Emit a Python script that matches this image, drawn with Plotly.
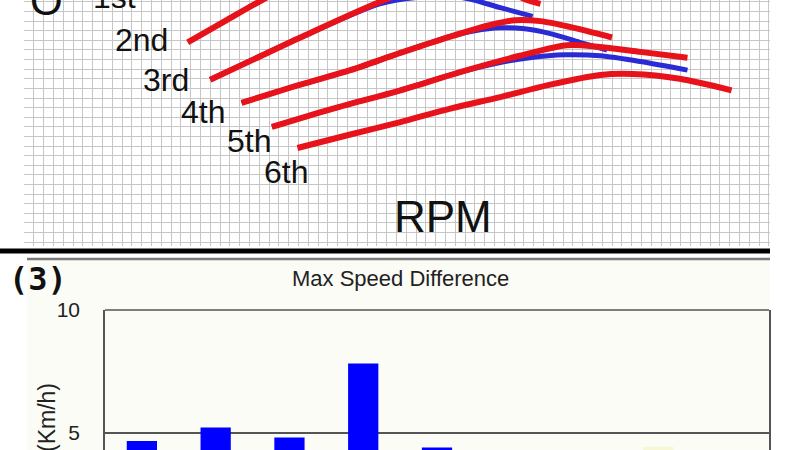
import plotly.graph_objects as go

# ---------------- data: top panel (drive force vs RPM per gear) ----------------
rpm_2nd_red = [1670, 2050, 2430, 3220, 4040]
frc_2nd_red = [208, 230, 252, 294, 317]

rpm_3rd_red = [1900, 2360, 2820, 3680, 4140, 4550, 4860, 5130, 5270]
frc_3rd_red = [169, 191, 213, 252, 267, 271, 265, 252, 248]
rpm_3rd_blue = [1900, 2820, 3630, 4040, 4350, 4550, 4860, 5190]
frc_3rd_blue = [169, 213, 248, 255, 256, 253, 244, 235]

rpm_4th_red = [2220, 2820, 3330, 3840, 4350, 4760, 5010, 5270, 5570, 6000]
frc_4th_red = [145, 164, 179, 197, 214, 226, 231, 230, 224, 213]
rpm_4th_blue = [2220, 2820, 3330, 3840, 4350, 4600, 4860, 5110, 5370, 5670, 5950]
frc_4th_blue = [145, 164, 179, 197, 214, 220, 223, 222, 217, 208, 200]

rpm_5th_red = [2530, 3120, 3840, 4450, 5060, 5540, 5880, 6290, 6770]
frc_5th_red = [120, 138, 158, 177, 194, 205, 203, 198, 192]
rpm_5th_blue = [2530, 3120, 3840, 4450, 4860, 5160, 5520, 5880, 6290, 6770]
frc_5th_blue = [120, 138, 158, 177, 187, 192, 195, 194, 188, 179]

rpm_6th_red = [2790, 3330, 3840, 4350, 4860, 5370, 5880, 6210, 6690, 7220]
frc_6th_red = [98, 112, 125, 139, 151, 164, 174, 175, 170, 158]

gear_labels = ["1st", "2nd", "3rd", "4th", "5th", "6th"]

# ---------------- data: bottom panel (Max Speed Difference) ----------------
bar_categories = ["1", "2", "3", "4", "5", "6", "7", "8", "9"]
bar_values = [4.67, 5.22, 4.81, 7.82, 4.40, 3.8, 3.5, 4.43, 3.9]
bar_colors = ["#0000ff"] * 7 + ["#f7f7d6"] + ["#0000ff"]
y_ticks = [5, 10]

W, H = 800, 450
def px(x):
    return x / W
def py(y):
    return 1 - y / H

RED = "#e8121a"
BLUE = "#2b2bd6"

fig = go.Figure()

blue_sets = [(rpm_3rd_blue, frc_3rd_blue), (rpm_4th_blue, frc_4th_blue), (rpm_5th_blue, frc_5th_blue)]
for xs, ys in blue_sets:
    fig.add_trace(go.Scatter(x=xs, y=ys, mode="lines", line=dict(color=BLUE, width=5, shape="spline", smoothing=0.8),
                             xaxis="x", yaxis="y", showlegend=False, hoverinfo="skip"))
red_sets = [(rpm_2nd_red, frc_2nd_red), (rpm_3rd_red, frc_3rd_red), (rpm_4th_red, frc_4th_red),
            (rpm_5th_red, frc_5th_red), (rpm_6th_red, frc_6th_red)]
for xs, ys in red_sets:
    fig.add_trace(go.Scatter(x=xs, y=ys, mode="lines", line=dict(color=RED, width=6, shape="spline", smoothing=0.8),
                             xaxis="x", yaxis="y", showlegend=False, hoverinfo="skip"))

fig.add_trace(go.Bar(x=bar_categories, y=bar_values, marker=dict(color=bar_colors, line=dict(width=0)),
                     width=0.41, xaxis="x2", yaxis="y2", showlegend=False, hoverinfo="skip"))

FONT = "Liberation Sans, Arial, sans-serif"

fig.update_layout(
    template="none",
    width=W, height=H, autosize=False,
    margin=dict(l=0, r=0, t=0, b=0, pad=0, autoexpand=False),
    paper_bgcolor="white", plot_bgcolor="rgba(0,0,0,0)",
    xaxis=dict(domain=[24 / W, 770 / W], range=[0, 7612], tick0=0, dtick=100, automargin=False,
               anchor="y", showgrid=True, gridcolor="#c6c6c6", gridwidth=1, zeroline=False,
               showticklabels=False, ticks="", showline=False, fixedrange=True),
    yaxis=dict(domain=[py(246), 1], range=[-4, 252], tick0=0, dtick=10, automargin=False,
               anchor="x", showgrid=True, gridcolor="#c6c6c6", gridwidth=1, zeroline=False,
               showticklabels=False, ticks="", showline=False, fixedrange=True),
    xaxis2=dict(domain=[105 / W, 769 / W], type="category", range=[-0.5, 8.5], automargin=False,
                anchor="y2", showgrid=False, zeroline=False, showticklabels=False, ticks="", showline=False),
    yaxis2=dict(domain=[0, py(310)], range=[4.3, 10], tickvals=y_ticks, automargin=False,
                anchor="x2", showgrid=True, gridcolor="#555555", gridwidth=1.5, zeroline=False,
                showline=True, mirror=True, linecolor="#555555", linewidth=1.5,
                ticks="outside", ticklen=19, tickcolor="rgba(0,0,0,0)",
                tickfont=dict(family=FONT, size=21, color="#222222")),
)

shapes = [
    dict(type="rect", xref="paper", yref="paper", x0=px(27), x1=px(770), y0=0, y1=py(259),
         fillcolor="#fcfcf6", line=dict(width=0), layer="below"),
    dict(type="line", xref="paper", yref="paper", x0=0, x1=px(770), y0=py(251), y1=py(251),
         line=dict(color="black", width=5)),
    dict(type="line", xref="paper", yref="paper", x0=px(27), x1=px(770), y0=py(259), y1=py(259),
         line=dict(color="#7a7a7a", width=2.5)),
    dict(type="line", xref="paper", yref="paper", x0=px(105), x1=px(769), y0=py(310), y1=py(310),
         line=dict(color="#555555", width=1.5)),
]
fig.update_layout(shapes=shapes)

label_pos = [(115, -3), (141, 40), (166, 80), (203, 112), (249, 141), (286, 172)]
ann = []
for t, (x, y) in zip(gear_labels, label_pos):
    ann.append(dict(text=t, x=px(x), y=py(y), xref="paper", yref="paper", showarrow=False,
                    xanchor="center", yanchor="middle", font=dict(family=FONT, size=32, color="#111111")))
ann += [
    dict(text="O", x=px(46), y=py(0), xref="paper", yref="paper", showarrow=False,
         xanchor="center", yanchor="middle", font=dict(family=FONT, size=42, color="#111111")),
    dict(text="RPM", x=px(443), y=py(216), xref="paper", yref="paper", showarrow=False,
         xanchor="center", yanchor="middle", font=dict(family=FONT, size=44, color="#111111")),
    dict(text="Max Speed Difference", x=px(400), y=py(278), xref="paper", yref="paper", showarrow=False,
         xanchor="center", yanchor="middle", font=dict(family=FONT, size=22, color="#222222")),
    dict(text="(3)", x=px(38), y=py(279), xref="paper", yref="paper", showarrow=False,
         xanchor="center", yanchor="middle", font=dict(family="DejaVu Sans Mono", size=32, color="#111111", weight="bold")),
    dict(text="(Km/h)", x=px(47), y=py(418), xref="paper", yref="paper", showarrow=False, textangle=-90,
         xanchor="center", yanchor="middle", font=dict(family=FONT, size=23, color="#222222")),
]
fig.update_layout(annotations=ann)

fig.write_html("out.html", config={"displayModeBar": False},
               post_script="document.body.style.margin='0px';document.body.style.padding='0px';")
